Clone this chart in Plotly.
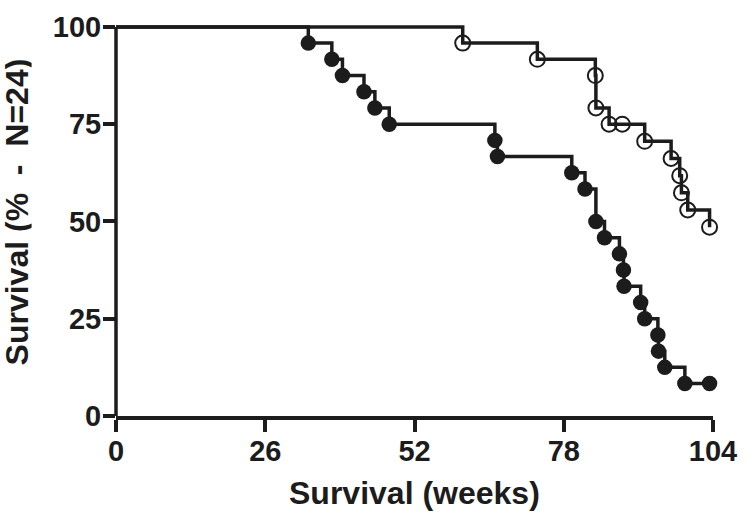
import plotly.graph_objects as go

# ---- data ----
start_week = 0
start_surv = 100

weeks_filled = [33.5, 37.6, 39.45, 43.2, 45.1, 47.6, 66.0, 66.45, 79.4, 81.7, 83.6,
                85.1, 87.7, 88.4, 88.5, 91.4, 92.1, 94.4, 94.5, 95.6, 99.1, 103.4]
surv_filled = [95.83, 91.67, 87.5, 83.33, 79.17, 75.0, 70.83, 66.67, 62.5, 58.33, 50.0,
               45.83, 41.67, 37.5, 33.33, 29.17, 25.0, 20.83, 16.67, 12.5, 8.33, 8.33]

weeks_open = [60.4, 73.4, 83.5, 83.6, 85.9, 88.2, 92.1, 96.7, 98.2, 98.5, 99.6, 103.4]
surv_open = [95.83, 91.67, 87.5, 79.17, 75.0, 75.0, 70.59, 66.18, 61.76, 57.35, 52.94, 48.53]

x_ticks = [0, 26, 52, 78, 104]
y_ticks = [0, 25, 50, 75, 100]

x_title = "Survival (weeks)"
y_title = "Survival (%\u00a0\u00a0-\u00a0\u00a0N=24)"

INK = "#1c1c1c"
FONT = "Liberation Sans, Arial, sans-serif"

fig = go.Figure()

# step lines
for wk, sv in [(weeks_filled, surv_filled), (weeks_open, surv_open)]:
    fig.add_trace(go.Scatter(
        x=[start_week] + wk, y=[start_surv] + sv, mode="lines",
        line=dict(shape="hv", color=INK, width=3.5),
        hoverinfo="skip", showlegend=False))

# markers
fig.add_trace(go.Scatter(
    x=weeks_filled, y=surv_filled, mode="markers",
    marker=dict(symbol="circle", size=15.5, color=INK, line=dict(width=0)),
    cliponaxis=False, showlegend=False))
fig.add_trace(go.Scatter(
    x=weeks_open, y=surv_open, mode="markers",
    marker=dict(symbol="circle-open", size=15, color=INK, line=dict(width=2, color=INK)),
    cliponaxis=False, showlegend=False))

title_font = dict(family=FONT, size=32, weight="bold", color=INK)

fig.update_layout(
    width=748, height=515,
    margin=dict(l=116, r=27, t=11, b=99),
    paper_bgcolor="white", plot_bgcolor="white",
    font=dict(family=FONT, color=INK),
    xaxis=dict(
        range=[0, 104], tickvals=x_ticks, ticktext=[str(v) for v in x_ticks],
        showline=True, linewidth=3.5, linecolor=INK,
        ticks="outside", ticklen=12, tickwidth=3.5, tickcolor=INK,
        showgrid=False, zeroline=False, ticklabeloverflow="allow",
        ticklabelstandoff=-6,
        tickfont=dict(family=FONT, size=29, weight="bold", color=INK),
    ),
    yaxis=dict(
        range=[0, 101], tickvals=y_ticks, ticktext=[str(v) for v in y_ticks],
        showline=False, ticklabeloverflow="allow",
        ticks="outside", ticklen=12, tickwidth=3.5, tickcolor=INK,
        showgrid=False, zeroline=False, ticklabelstandoff=-4,
        tickfont=dict(family=FONT, size=29, weight="bold", color=INK),
    ),
    shapes=[dict(type="line", xref="paper", yref="y", x0=0, x1=0, y0=0, y1=100,
                 line=dict(color=INK, width=3.5), layer="above")],
    annotations=[
        dict(text=y_title, textangle=-90, xref="paper", yref="paper",
             x=0, xshift=-99, xanchor="center", y=0.518, yanchor="middle",
             height=30, showarrow=False, font=title_font),
        dict(text=x_title, xref="paper", yref="paper",
             x=0.5, xanchor="center", y=0, yshift=-77, yanchor="middle",
             showarrow=False, font=title_font),
    ],
)

fig.write_html("out.html",
               config={"displayModeBar": False},
               post_script="document.body.style.margin='0';document.body.style.overflow='hidden';")
